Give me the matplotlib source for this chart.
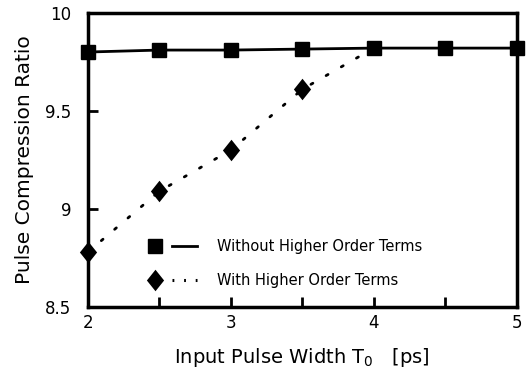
import numpy as np
from matplotlib import pyplot as plt
from matplotlib.lines import Line2D
from matplotlib.legend_handler import HandlerTuple
from matplotlib.ticker import MultipleLocator

# pulse width T0 [ps]
width = [2.0, 2.5, 3.0, 3.5, 4.0, 4.5, 5.0]
# compression ratio without higher order terms
ratio_without = [9.80, 9.81, 9.81, 9.815, 9.82, 9.82, 9.82]
# compression ratio with higher order terms (joins the other curve at 4 ps)
width_with = [2.0, 2.5, 3.0, 3.5, 4.0]
ratio_with = [8.78, 9.09, 9.30, 9.61, 9.82]

x_ticks = [2, 3, 4, 5]
y_ticks = [8.5, 9, 9.5, 10]
y_labels = ["8.5", "9", "9.5", "10"]
labels = ["Without Higher Order Terms", "With Higher Order Terms"]

plt.rcParams['font.family'] = ['DejaVu Sans']

dotted = (0, (0.8, 5.5))
# slightly slimmer diamond than the built-in 'D'
diamond = [(0, 1), (0.8, 0), (0, -1), (-0.8, 0), (0, 1)]

fig = plt.figure(figsize=(5.3, 3.77), dpi=100)
ax = fig.add_axes([0.166, 0.186, 0.809, 0.78])

ax.plot(width_with, ratio_with, color='black', linestyle=dotted, linewidth=2,
        dash_capstyle='round', clip_on=False, zorder=2)
ax.plot(width_with[:-1], ratio_with[:-1], linestyle='none', marker=diamond, markersize=15.5,
        markeredgewidth=0, color='black', clip_on=False, zorder=3)
ax.plot(width, ratio_without, color='black', linewidth=2, marker='s', markersize=10,
        clip_on=False, zorder=4)

# legend: marker on the left, line sample on the right
sq = Line2D([], [], color='black', linestyle='none', marker='s', markersize=10.5)
solid = Line2D([], [], color='black', linewidth=2)
dia = Line2D([], [], color='black', linestyle='none', marker=diamond, markersize=15.5,
             markeredgewidth=0)
dots = Line2D([], [], color='black', linestyle=(0, (0.6, 3.2)), linewidth=2.2)
ax.legend([(sq, solid), (dia, dots)], labels,
          handler_map={tuple: HandlerTuple(ndivide=None, pad=0.3)},
          loc='upper left', bbox_to_anchor=(0.128, 0.232), borderaxespad=0, borderpad=0,
          frameon=False, fontsize=10.5, handlelength=3.7, handletextpad=1.4,
          labelspacing=1.3)

ax.set_xlim(2, 5)
ax.set_ylim(8.5, 10)
ax.set_xticks(x_ticks)
ax.xaxis.set_minor_locator(MultipleLocator(0.5))
ax.set_yticks(y_ticks)
ax.set_yticklabels(y_labels)
ax.tick_params(axis='both', which='both', direction='in', length=7, width=2,
               top=False, right=False, labelsize=12)
ax.tick_params(axis='x', pad=5)
ax.tick_params(axis='y', pad=12)

for s in ax.spines.values():
    s.set_linewidth(2.5)

ax.set_xlabel("Input Pulse Width T$_\\mathregular{0}$   [ps]", fontsize=14, labelpad=10)
ax.set_ylabel("Pulse Compression Ratio", fontsize=14.5, labelpad=8)

plt.savefig("out.png", dpi=100)
